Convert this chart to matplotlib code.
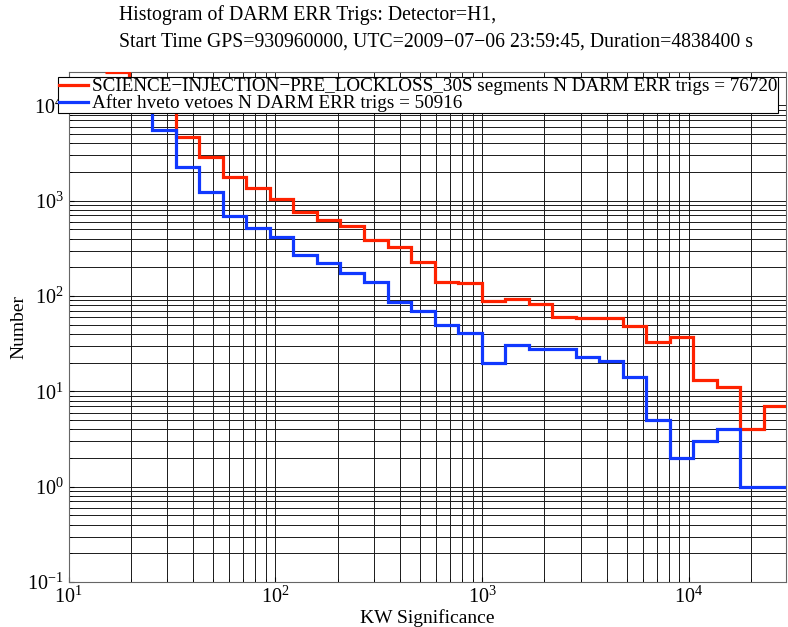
import numpy as np
import matplotlib
matplotlib.use("Agg")
import matplotlib.pyplot as plt

plt.rcParams['font.family'] = ['Liberation Serif', 'DejaVu Serif']
plt.rcParams['mathtext.fontset'] = 'stix'

# KW significance bin edges (log spaced histogram bins)
edges = [15.03, 19.54, 25.39, 33.00, 42.89, 55.74, 72.44, 94.13, 122.3, 159.0,
         206.6, 268.5, 348.9, 453.5, 589.3, 765.9, 995.2, 1293, 1681, 2185,
         2839, 3689, 4795, 6231, 8097, 10522, 13675, 17771, 23093, 30010]

# counts per bin
n_science = [22400, 17000, 11000, 4620, 2850, 1760, 1350, 1040, 759, 626,
             541, 386, 326, 227, 140, 137, 89, 93, 82, 60,
             59, 59, 48, 33, 37, 13, 11, 4, 7]
n_vetoed = [17000, 11000, 5470, 2240, 1230, 689, 515, 415, 269, 222,
            174, 140, 86, 70, 50, 41, 20, 31, 28, 28,
            23, 21, 14, 5, 2, 3, 4, 1, 1]

label_science = "SCIENCE\u2212INJECTION\u2212PRE_LOCKLOSS_30S segments N DARM ERR trigs = 76720"
label_vetoed = "After hveto vetoes N DARM ERR trigs = 50916"
title_1 = "Histogram of DARM ERR Trigs: Detector=H1,"
title_2 = "Start Time GPS=930960000, UTC=2009\u221207\u221206 23:59:45, Duration=4838400 s"

W, H = 788, 627
fig = plt.figure(figsize=(W / 100, H / 100), dpi=100)
ax = fig.add_axes([68.5 / W, 1 - 582 / H, (786 - 68.5) / W, (582 - 72) / H])

ax.set_xscale('log')
ax.set_yscale('log')

ax.stairs(n_science, edges, baseline=None, color='#ff2200', lw=2.3,
          label=label_science, zorder=3)
ax.stairs(n_vetoed, edges, baseline=None, color='#1038ff', lw=2.3,
          label=label_vetoed, zorder=3)

ax.set_xlim(10, 29500)
ax.set_ylim(0.1, 22400)

ax.grid(True, which='both', color='0.1', lw=0.7, ls='-')
ax.tick_params(which='both', direction='in', labelsize=14.5)
ax.set_xticks([10, 100, 1000, 10000])
ax.set_yticks([0.1, 1, 10, 100, 1000, 10000])
for s in ax.spines.values():
    s.set_color('0.4')

ax.set_xlabel("KW Significance", fontsize=14, labelpad=1)
ax.set_ylabel("Number", fontsize=14, labelpad=0)

fig.text(119 / W, 1 - 15 / H, title_1, fontsize=14.2, va='center', ha='left')
fig.text(119 / W, 1 - 42 / H, title_2, fontsize=14.2, va='center', ha='left')

leg = ax.legend(loc='upper left', bbox_to_anchor=(58 / W, 1 - 77 / H),
                bbox_transform=fig.transFigure, borderaxespad=0, fontsize=13.8,
                handlelength=1.5, handletextpad=0.2, borderpad=0.05,
                labelspacing=-0.05, fancybox=False, framealpha=1)
leg.get_frame().set_edgecolor('black')
leg.get_frame().set_linewidth(0.8)

fig.savefig("out.png", dpi=100)
